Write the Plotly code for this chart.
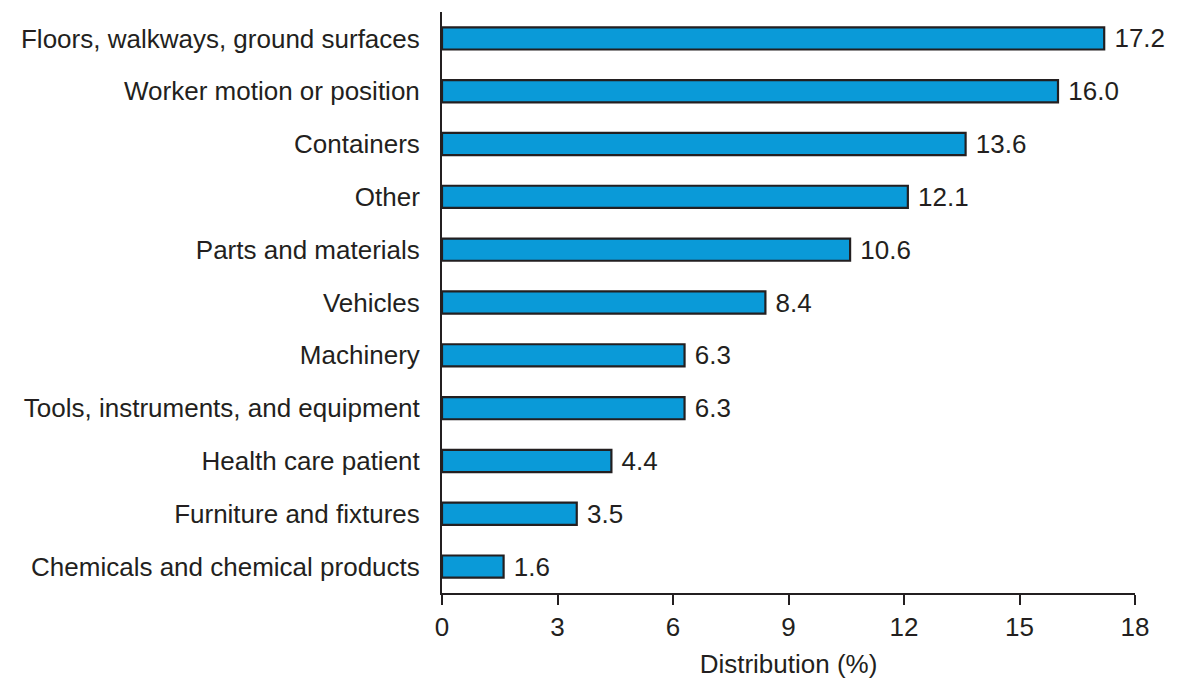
import plotly.graph_objects as go

categories = [
    "Floors, walkways, ground surfaces",
    "Worker motion or position",
    "Containers",
    "Other",
    "Parts and materials",
    "Vehicles",
    "Machinery",
    "Tools, instruments, and equipment",
    "Health care patient",
    "Furniture and fixtures",
    "Chemicals and chemical products",
]
values = [17.2, 16.0, 13.6, 12.1, 10.6, 8.4, 6.3, 6.3, 4.4, 3.5, 1.6]
tick_vals = [0, 3, 6, 9, 12, 15, 18]

TXT = "#231f20"
FONT = "Liberation Sans, Arial, sans-serif"
FS = 26

fig = go.Figure(go.Bar(
    x=values,
    y=categories,
    orientation="h",
    marker=dict(color="#0a9ad8", line=dict(color="#231f20", width=2.2)),
    text=["\u00a0" + f"{v:.1f}" for v in values],
    textposition="outside",
    constraintext="none",
    textfont=dict(size=FS, color=TXT, family=FONT),
    cliponaxis=False,
))

fig.update_layout(
    width=1192, height=680,
    margin=dict(l=434, r=65, t=4, b=95),
    plot_bgcolor="white", paper_bgcolor="white",
    bargap=0.58,
    showlegend=False,
    font=dict(family=FONT, size=FS, color=TXT),
    uniformtext=dict(minsize=FS, mode="show"),
)
fig.update_xaxes(
    range=[0, 18], tickvals=tick_vals, showgrid=False, zeroline=False,
    showline=True, linecolor=TXT, linewidth=2,
    ticks="outside", ticklen=10, tickwidth=2, tickcolor=TXT,
    tickfont=dict(size=FS, color=TXT),
    title=dict(text="Distribution (%)", font=dict(size=FS, color=TXT), standoff=14),
)
fig.update_yaxes(
    categoryorder="array", categoryarray=categories[::-1],
    showgrid=False, zeroline=False,
    showline=True, linecolor=TXT, linewidth=2,
    ticks="", ticklabelstandoff=15,
    tickfont=dict(size=FS, color=TXT),
)

fig.write_html("out.html")
